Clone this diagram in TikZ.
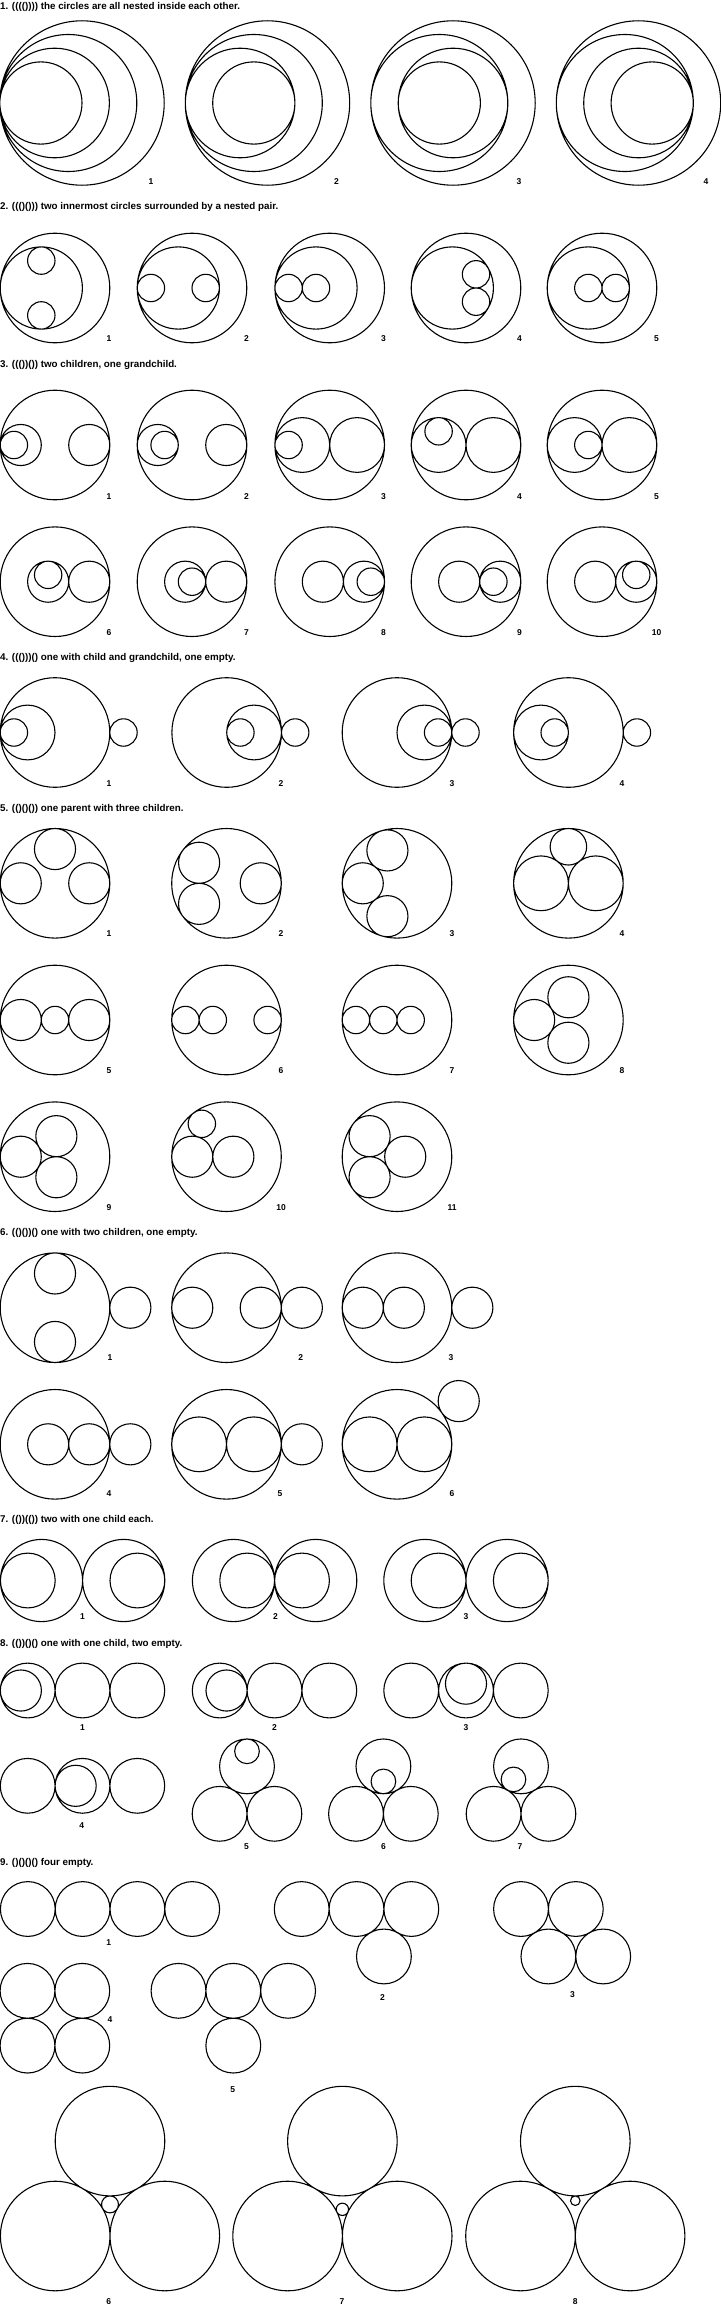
\documentclass[tikz,border=0pt]{standalone}
\usepackage{fontspec}
\setmainfont{Liberation Sans}

\begin{document}
\begin{tikzpicture}[x=1pt,y=-1pt,
	ring/.style={draw,line width=1.1pt},
	fig/.style={shift={#1},x=13.7pt,y=13.7pt},
	title/.style={anchor=base west,inner sep=0pt,font=\bfseries\fontsize{9.8}{12}\selectfont},
	lab/.style={inner sep=0pt,font=\bfseries\fontsize{8.5}{10}\selectfont}]
	
	\useasboundingbox (0,0) rectangle (720,2304);
	
	% 1. four nested
	\node[title](t1) at (0,10) {1. (((()))) the circles are all nested inside each other.};
	\begin{scope}[fig={(82,103)}]
		\draw[ring] (0,0) circle[radius=6] (-1,0) circle[radius=5] (-2,0) circle[radius=4] (-3,0) circle[radius=3];
	\end{scope}
	\begin{scope}[fig={(267.5,103)}]
		\draw[ring] (0,0) circle[radius=6] (-1,0) circle[radius=5] (-2,0) circle[radius=4] (-1,0) circle[radius=3];
	\end{scope}
	\begin{scope}[fig={(453,103)}]
		\draw[ring] (0,0) circle[radius=6] (-1,0) circle[radius=5] (0,0) circle[radius=4] (-1,0) circle[radius=3];
	\end{scope}
	\begin{scope}[fig={(638.5,103)}]
		\draw[ring] (0,0) circle[radius=6] (-1,0) circle[radius=5] (0,0) circle[radius=4] (1,0) circle[radius=3];
	\end{scope}
	\node[lab](a1) at (151,182) {1};
	\node[lab](a2) at (336.5,182) {2};
	\node[lab](a3) at (519,182) {3};
	\node[lab](a4) at (706,182) {4};
	
	% 2. two innermost in a nested pair
	\node[title](t2) at (0,209) {2. ((()())) two innermost circles surrounded by a nested pair.};
	\begin{scope}[fig={(55,288)}]
		\draw[ring] (0,0) circle[radius=4] (-1,0) circle[radius=3] (-1,2) circle[radius=1] (-1,-2) circle[radius=1];
	\end{scope}
	\begin{scope}[fig={(192,288)}]
		\draw[ring] (0,0) circle[radius=4] (-1,0) circle[radius=3] (-3,0) circle[radius=1] (1,0) circle[radius=1];
	\end{scope}
	\begin{scope}[fig={(329.7,288)}]
		\draw[ring] (0,0) circle[radius=4] (-1,0) circle[radius=3] (-3,0) circle[radius=1] (-1,0) circle[radius=1];
	\end{scope}
	\begin{scope}[fig={(466,288)}]
		\draw[ring] (0,0) circle[radius=4] (-1,0) circle[radius=3] (0.732,1) circle[radius=1] (0.732,-1) circle[radius=1];
	\end{scope}
	\begin{scope}[fig={(602,288)}]
		\draw[ring] (0,0) circle[radius=4] (-1,0) circle[radius=3] (-1,0) circle[radius=1] (1,0) circle[radius=1];
	\end{scope}
	\node[lab](b1) at (109,339) {1};
	\node[lab](b2) at (246.5,339) {2};
	\node[lab](b3) at (383.5,339) {3};
	\node[lab](b4) at (519.5,339) {4};
	\node[lab](b5) at (656.5,339) {5};
	
	% 3. two children, one grandchild
	\node[title](t3) at (0,367) {3. ((())()) two children, one grandchild.};
	\begin{scope}[fig={(55,445)}]
		\draw[ring] (0,0) circle[radius=4] (-2.5,0) circle[radius=1.5] (2.5,0) circle[radius=1.5] (-3,0) circle[radius=1];
	\end{scope}
	\begin{scope}[fig={(192,445)}]
		\draw[ring] (0,0) circle[radius=4] (-2.5,0) circle[radius=1.5] (2.5,0) circle[radius=1.5] (-2,0) circle[radius=1];
	\end{scope}
	\begin{scope}[fig={(329.7,445)}]
		\draw[ring] (0,0) circle[radius=4] (-2,0) circle[radius=2] (2,0) circle[radius=2] (-3,0) circle[radius=1];
	\end{scope}
	\begin{scope}[fig={(466,445)}]
		\draw[ring] (0,0) circle[radius=4] (-2,0) circle[radius=2] (2,0) circle[radius=2] (-2,1) circle[radius=1];
	\end{scope}
	\begin{scope}[fig={(602,445)}]
		\draw[ring] (0,0) circle[radius=4] (-2,0) circle[radius=2] (2,0) circle[radius=2] (-1,0) circle[radius=1];
	\end{scope}
	\node[lab](c1) at (109,496.7) {1};
	\node[lab](c2) at (246.5,496.7) {2};
	\node[lab](c3) at (383.5,496.7) {3};
	\node[lab](c4) at (519.5,496.7) {4};
	\node[lab](c5) at (656.5,496.7) {5};
	\begin{scope}[fig={(55,581.7)}]
		\draw[ring] (0,0) circle[radius=4] (-0.5,0) circle[radius=1.5] (2.5,0) circle[radius=1.5] (-0.5,0.5) circle[radius=1];
	\end{scope}
	\begin{scope}[fig={(192,581.7)}]
		\draw[ring] (0,0) circle[radius=4] (-0.5,0) circle[radius=1.5] (2.5,0) circle[radius=1.5] (0,0) circle[radius=1];
	\end{scope}
	\begin{scope}[fig={(329.7,581.7)}]
		\draw[ring] (0,0) circle[radius=4] (-0.5,0) circle[radius=1.5] (2.5,0) circle[radius=1.5] (3,0) circle[radius=1];
	\end{scope}
	\begin{scope}[fig={(466,581.7)}]
		\draw[ring] (0,0) circle[radius=4] (-0.5,0) circle[radius=1.5] (2.5,0) circle[radius=1.5] (2,0) circle[radius=1];
	\end{scope}
	\begin{scope}[fig={(602,581.7)}]
		\draw[ring] (0,0) circle[radius=4] (-0.5,0) circle[radius=1.5] (2.5,0) circle[radius=1.5] (2.5,0.5) circle[radius=1];
	\end{scope}
	\node[lab](c6) at (109,633) {6};
	\node[lab](c7) at (246.5,633) {7};
	\node[lab](c8) at (383.5,633) {8};
	\node[lab](c9) at (519.5,633) {9};
	\node[lab](c10) at (656.5,633) {10};
	
	% 4. child and grandchild, one empty
	\node[title](t4) at (0,660.5) {4. ((()))() one with child and grandchild, one empty.};
	\begin{scope}[fig={(55,732.5)}]
		\draw[ring] (0,0) circle[radius=4] (5,0) circle[radius=1] (-2,0) circle[radius=2] (-3,0) circle[radius=1];
	\end{scope}
	\begin{scope}[fig={(226.7,732.5)}]
		\draw[ring] (0,0) circle[radius=4] (5,0) circle[radius=1] (2,0) circle[radius=2] (1,0) circle[radius=1];
	\end{scope}
	\begin{scope}[fig={(397,732.5)}]
		\draw[ring] (0,0) circle[radius=4] (5,0) circle[radius=1] (2,0) circle[radius=2] (3,0) circle[radius=1];
	\end{scope}
	\begin{scope}[fig={(568.4,732.5)}]
		\draw[ring] (0,0) circle[radius=4] (5,0) circle[radius=1] (-2,0) circle[radius=2] (-1,0) circle[radius=1];
	\end{scope}
	\node[lab](d1) at (109,784) {1};
	\node[lab](d2) at (281,784) {2};
	\node[lab](d3) at (452,784) {3};
	\node[lab](d4) at (622,784) {4};
	
	% 5. one parent, three children
	\node[title](t5) at (0,811.5) {5. (()()()) one parent with three children.};
	\begin{scope}[fig={(55,883.3)}]
		\draw[ring] (0,0) circle[radius=4] (-2.5,0) circle[radius=1.5] (2.5,0) circle[radius=1.5] (0,2.5) circle[radius=1.5];
	\end{scope}
	\begin{scope}[fig={(226.5,883.3)}]
		\draw[ring] (0,0) circle[radius=4] (2.5,0) circle[radius=1.5] (-2,1.5) circle[radius=1.5] (-2,-1.5) circle[radius=1.5];
	\end{scope}
	\begin{scope}[fig={(397,883.3)}]
		\draw[ring] (0,0) circle[radius=4] (-2.5,0) circle[radius=1.5] (-0.7,2.4) circle[radius=1.5] (-0.7,-2.4) circle[radius=1.5];
	\end{scope}
	\begin{scope}[fig={(568.4,883.3)}]
		\draw[ring] (0,0) circle[radius=4] (-2,0) circle[radius=2] (2,0) circle[radius=2] (0,2.667) circle[radius=1.333];
	\end{scope}
	\node[lab](e1) at (109,934) {1};
	\node[lab](e2) at (281,934) {2};
	\node[lab](e3) at (452,934) {3};
	\node[lab](e4) at (622,934) {4};
	\begin{scope}[fig={(55,1020)}]
		\draw[ring] (0,0) circle[radius=4] (-2.5,0) circle[radius=1.5] (0,0) circle[radius=1] (2.5,0) circle[radius=1.5];
	\end{scope}
	\begin{scope}[fig={(226.5,1020)}]
		\draw[ring] (0,0) circle[radius=4] (-3,0) circle[radius=1] (-1,0) circle[radius=1] (3,0) circle[radius=1];
	\end{scope}
	\begin{scope}[fig={(397,1020)}]
		\draw[ring] (0,0) circle[radius=4] (-3,0) circle[radius=1] (-1,0) circle[radius=1] (1,0) circle[radius=1];
	\end{scope}
	\begin{scope}[fig={(568.4,1020)}]
		\draw[ring] (0,0) circle[radius=4] (-2.5,0) circle[radius=1.5] (0,1.66) circle[radius=1.5] (0,-1.66) circle[radius=1.5];
	\end{scope}
	\node[lab](e5) at (109,1070.7) {5};
	\node[lab](e6) at (281,1070.7) {6};
	\node[lab](e7) at (452,1070.7) {7};
	\node[lab](e8) at (622,1070.7) {8};
	\begin{scope}[fig={(55,1156.7)}]
		\draw[ring] (0,0) circle[radius=4] (-2.5,0) circle[radius=1.5] (0.1,1.5) circle[radius=1.5] (0.1,-1.5) circle[radius=1.5];
	\end{scope}
	\begin{scope}[fig={(226.5,1156.7)}]
		\draw[ring] (0,0) circle[radius=4] (-2.5,0) circle[radius=1.5] (0.5,0) circle[radius=1.5] (-1.8,2.4) circle[radius=1];
	\end{scope}
	\begin{scope}[fig={(397,1156.7)}]
		\draw[ring] (0,0) circle[radius=4] (-2,1.5) circle[radius=1.5] (-2,-1.5) circle[radius=1.5] (0.6,0) circle[radius=1.5];
	\end{scope}
	\node[lab](e9) at (109,1207.3) {9};
	\node[lab](e10) at (281,1207.3) {10};
	\node[lab](e11) at (452,1207.3) {11};
	
	% 6. two children, one empty
	\node[title](t6) at (0,1235.7) {6. (()())() one with two children, one empty.};
	\begin{scope}[fig={(55,1307.7)}]
		\draw[ring] (0,0) circle[radius=4] (5.5,0) circle[radius=1.5] (0,2.5) circle[radius=1.5] (0,-2.5) circle[radius=1.5];
	\end{scope}
	\begin{scope}[fig={(226.5,1307.7)}]
		\draw[ring] (0,0) circle[radius=4] (5.5,0) circle[radius=1.5] (-2.5,0) circle[radius=1.5] (2.5,0) circle[radius=1.5];
	\end{scope}
	\begin{scope}[fig={(397,1307.7)}]
		\draw[ring] (0,0) circle[radius=4] (5.5,0) circle[radius=1.5] (-2.5,0) circle[radius=1.5] (0.5,0) circle[radius=1.5];
	\end{scope}
	\node[lab](f1) at (110,1357.3) {1};
	\node[lab](f2) at (300.7,1357.3) {2};
	\node[lab](f3) at (451,1357.3) {3};
	\begin{scope}[fig={(55,1444.3)}]
		\draw[ring] (0,0) circle[radius=4] (5.5,0) circle[radius=1.5] (-0.5,0) circle[radius=1.5] (2.5,0) circle[radius=1.5];
	\end{scope}
	\begin{scope}[fig={(226.5,1444.3)}]
		\draw[ring] (0,0) circle[radius=4] (5.5,0) circle[radius=1.5] (-2,0) circle[radius=2] (2,0) circle[radius=2];
	\end{scope}
	\begin{scope}[fig={(397,1444.3)}]
		\draw[ring] (0,0) circle[radius=4] (35:5.5) circle[radius=1.5] (-2,0) circle[radius=2] (2,0) circle[radius=2];
	\end{scope}
	\node[lab](f4) at (109,1494) {4};
	\node[lab](f5) at (280,1494) {5};
	\node[lab](f6) at (452,1494) {6};
	
	% 7. two with one child each
	\node[title](t7) at (0,1522.3) {7. (())(()) two with one child each.};
	\begin{scope}[fig={(82.6,1580.5)}]
		\draw[ring] (-3,0) circle[radius=3] (3,0) circle[radius=3] (-4,0) circle[radius=2] (4,0) circle[radius=2];
	\end{scope}
	\begin{scope}[fig={(274.6,1580.5)}]
		\draw[ring] (-3,0) circle[radius=3] (3,0) circle[radius=3] (-2,0) circle[radius=2] (2,0) circle[radius=2];
	\end{scope}
	\begin{scope}[fig={(466,1580.5)}]
		\draw[ring] (-3,0) circle[radius=3] (3,0) circle[radius=3] (-2,0) circle[radius=2] (4,0) circle[radius=2];
	\end{scope}
	\node[lab](g1) at (82.6,1616.7) {1};
	\node[lab](g2) at (275.5,1616.7) {2};
	\node[lab](g3) at (466,1616.7) {3};
	
	% 8. one with one child, two empty
	\node[title](t8) at (0,1646.7) {8. (())()() one with one child, two empty.};
	\begin{scope}[fig={(82.5,1690.5)}]
		\draw[ring] (-4,0) circle[radius=2] (0,0) circle[radius=2] (4,0) circle[radius=2] (-4.5,0) circle[radius=1.5];
	\end{scope}
	\begin{scope}[fig={(274.5,1690.5)}]
		\draw[ring] (-4,0) circle[radius=2] (0,0) circle[radius=2] (4,0) circle[radius=2] (-3.5,0) circle[radius=1.5];
	\end{scope}
	\begin{scope}[fig={(466,1690.5)}]
		\draw[ring] (-4,0) circle[radius=2] (0,0) circle[radius=2] (4,0) circle[radius=2] (0,0.5) circle[radius=1.5];
	\end{scope}
	\node[lab](h1) at (82.5,1727.3) {1};
	\node[lab](h2) at (274.5,1727.3) {2};
	\node[lab](h3) at (466,1727.3) {3};
	\begin{scope}[fig={(82.5,1785.8)}]
		\draw[ring] (-4,0) circle[radius=2] (0,0) circle[radius=2] (4,0) circle[radius=2] (-0.5,0) circle[radius=1.5];
	\end{scope}
	\begin{scope}[fig={(247,1813.8)}]
		\draw[ring] (-2,0) circle[radius=2] (2,0) circle[radius=2] (0,3.464) circle[radius=2] (0,4.564) circle[radius=0.9];
	\end{scope}
	\begin{scope}[fig={(383.4,1813.8)}]
		\draw[ring] (-2,0) circle[radius=2] (2,0) circle[radius=2] (0,3.464) circle[radius=2] (0,2.364) circle[radius=0.9];
	\end{scope}
	\begin{scope}[fig={(521,1813.8)}]
		\draw[ring] (-2,0) circle[radius=2] (2,0) circle[radius=2] (0,3.464) circle[radius=2] (-0.55,2.511) circle[radius=0.9];
	\end{scope}
	\node[lab](h4) at (81.7,1826) {4};
	\node[lab](h5) at (246.5,1846.7) {5};
	\node[lab](h6) at (383.4,1846.7) {6};
	\node[lab](h7) at (520,1846.7) {7};
	
	% 9. four empty
	\node[title](t9) at (0,1865.7) {9. ()()()() four empty.};
	\begin{scope}[fig={(110,1909)}]
		\draw[ring] (-6,0) circle[radius=2] (-2,0) circle[radius=2] (2,0) circle[radius=2] (6,0) circle[radius=2];
	\end{scope}
	\begin{scope}[fig={(356.5,1909)}]
		\draw[ring] (-4,0) circle[radius=2] (0,0) circle[radius=2] (4,0) circle[radius=2] (2,-3.464) circle[radius=2];
	\end{scope}
	\begin{scope}[fig={(521,1909)}]
		\draw[ring] (0,0) circle[radius=2] (4,0) circle[radius=2] (2,-3.464) circle[radius=2] (6,-3.464) circle[radius=2];
	\end{scope}
	\begin{scope}[fig={(27.5,1990.8)}]
		\draw[ring] (0,0) circle[radius=2] (4,0) circle[radius=2] (0,-4) circle[radius=2] (4,-4) circle[radius=2];
	\end{scope}
	\begin{scope}[fig={(233.3,1990.8)}]
		\draw[ring] (-4,0) circle[radius=2] (0,0) circle[radius=2] (4,0) circle[radius=2] (0,-4) circle[radius=2];
	\end{scope}
	\node[lab](k1) at (108.8,1942.7) {1};
	\node[lab](k2) at (382.5,1997.3) {2};
	\node[lab](k3) at (572.6,1995) {3};
	\node[lab](k4) at (110,2019.3) {4};
	\node[lab](k5) at (232.8,2090) {5};
	\begin{scope}[fig={(110,2236)}]
		\draw[ring] (-4,0) circle[radius=4] (4,0) circle[radius=4] (0,6.928) circle[radius=4] (0,2.309) circle[radius=0.619];
	\end{scope}
	\begin{scope}[fig={(342.4,2236)}]
		\draw[ring] (-4,0) circle[radius=4] (4,0) circle[radius=4] (0,6.928) circle[radius=4] (0,1.95) circle[radius=0.45];
	\end{scope}
	\begin{scope}[fig={(575.3,2236)}]
		\draw[ring] (-4,0) circle[radius=4] (4,0) circle[radius=4] (0,6.928) circle[radius=4] (0,2.578) circle[radius=0.35];
	\end{scope}
	\node[lab](k6) at (108.8,2301.7) {6};
	\node[lab](k7) at (342,2301.7) {7};
	\node[lab](k8) at (575.3,2301.7) {8};
\end{tikzpicture}
\end{document}
